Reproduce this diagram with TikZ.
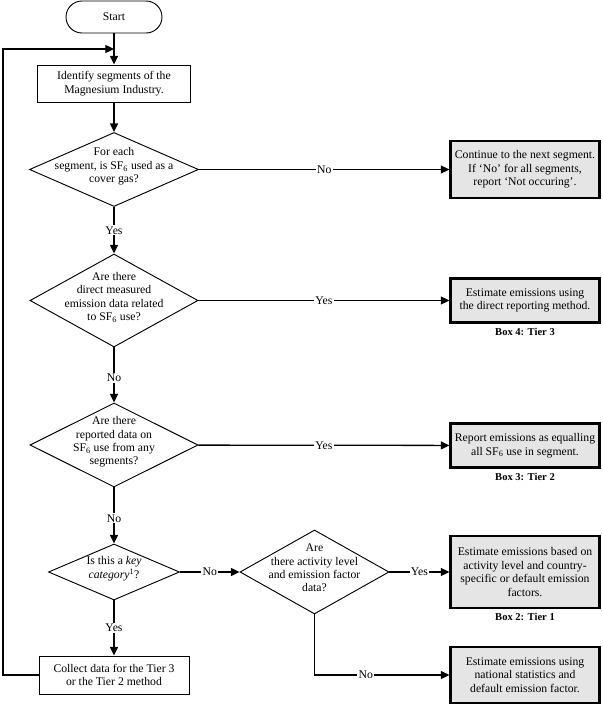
\documentclass[tikz,border=0pt]{standalone}
\usepackage{fontspec}
\setmainfont{Liberation Serif}
\usepackage{tikz}
\usetikzlibrary{positioning,shapes.geometric,arrows.meta}
\newcommand{\dtext}[1]{\smash{\makebox[0pt]{\begin{tabular}{@{}c@{}}#1\end{tabular}}}}
\newcommand{\sfsix}{SF\textsubscript{6}}
\begin{document}
\begin{tikzpicture}[x=0.03cm, y=-0.03cm,
    font=\fontsize{10}{11.5}\selectfont,
    box/.style={draw, line width=0.8pt, align=center, inner sep=2pt},
    outbox/.style={draw, line width=1.8pt, fill=black!10, align=center, inner sep=2pt, minimum width=4.47cm},
    decision/.style={draw, diamond, line width=0.8pt, inner sep=0pt},
    flow/.style={line width=1.1pt, -{Triangle[length=2.6mm,width=2.4mm]}},
    ans/.style={fill=white, inner sep=1pt},
    tier/.style={font=\fontsize{9}{11}\selectfont\bfseries}]
            \useasboundingbox (0,0) rectangle (602,705);

            \node[draw, rounded corners=0.48cm, line width=0.8pt, minimum width=2.88cm,
            minimum height=0.96cm] (start) at (114,17) {Start};
            \node[box, minimum width=4.59cm, minimum height=1.11cm] (ident) at (114,83.5) {Identify segments of the\\Magnesium Industry.};
            \node[decision, minimum width=5.07cm, minimum height=2.22cm] (cover) at (114,169.5) {\dtext{For each\\segment, is \sfsix{} used as a\\cover gas?}};
            \node[outbox, minimum height=1.71cm] (next) at (525,169.5) {Continue to the next segment.\\If ‘No’ for all segments,\\report ‘Not occuring’.};

            \node[decision, minimum width=5.04cm, minimum height=2.79cm] (direct) at (114,300.5) {\dtext{Are there\\direct measured\\emission data related\\to \sfsix{} use?}};
            \node[outbox, minimum height=1.32cm] (tierthree) at (525,300.5) {Estimate emissions using\\the direct reporting method.};
            \node[tier] (lblthree) at (525,332) {Box 4: Tier 3};

            \node[decision, minimum width=5.04cm, minimum height=2.52cm] (reported) at (114,445) {\dtext{Are there\\reported data on\\\sfsix{} use from any\\segments?}};
            \node[outbox, minimum height=1.32cm] (tiertwo) at (525,445.5) {Report emissions as equalling\\all \sfsix{} use in segment.};
            \node[tier] (lbltwo) at (525,477) {Box 3: Tier 2};

            \node[decision, minimum width=3.93cm, minimum height=1.68cm] (key) at (114,572) {\dtext{Is this a \textit{key}\\\textit{category}\textsuperscript{1}?}};
            \node[decision, minimum width=4.47cm, minimum height=2.52cm] (activity) at (314.5,572) {\dtext{Are\\there activity level\\and emission factor\\data?}};
            \node[outbox, minimum height=2.16cm] (tierone) at (525,572) {Estimate emissions based on\\activity level and country-\\specific or default emission\\factors.};
            \node[tier] (lblone) at (525,617) {Box 2: Tier 1};
            \node[outbox, minimum height=1.68cm] (national) at (525,675) {Estimate emissions using\\national statistics and\\default emission factor.};
            \node[box, minimum width=4.5cm, minimum height=1.14cm] (collect) at (114,675) {Collect data for the Tier 3\\or the Tier 2 method};

            \coordinate (back) at (3,49);
            \coordinate (join) at (114,49);

            \draw[flow] (start) -- (ident);
            \draw[flow] (ident) -- (cover);
            \draw[flow] (cover) -- node[ans] {No} (next);
            \draw[flow] (cover) -- node[ans] {Yes} (direct);
            \draw[flow] (direct) -- node[ans] {Yes} (tierthree);
            \draw[flow] (direct) -- node[ans, pos=0.55] {No} (reported);
            \draw[flow] (reported) -- node[ans] {Yes} (tiertwo);
            \draw[flow] (reported) -- node[ans, pos=0.55] {No} (key);
            \draw[flow] (key) -- node[ans] {No} (activity);
            \draw[flow] (key) -- node[ans] {Yes} (collect);
            \draw[flow] (activity) -- node[ans] {Yes} (tierone);
            \draw[flow] (activity.south) |- node[ans, pos=0.69] {No} (national);
            \draw[flow] (collect.west) -| (back) -- (join);
        \end{tikzpicture}
\end{document}
